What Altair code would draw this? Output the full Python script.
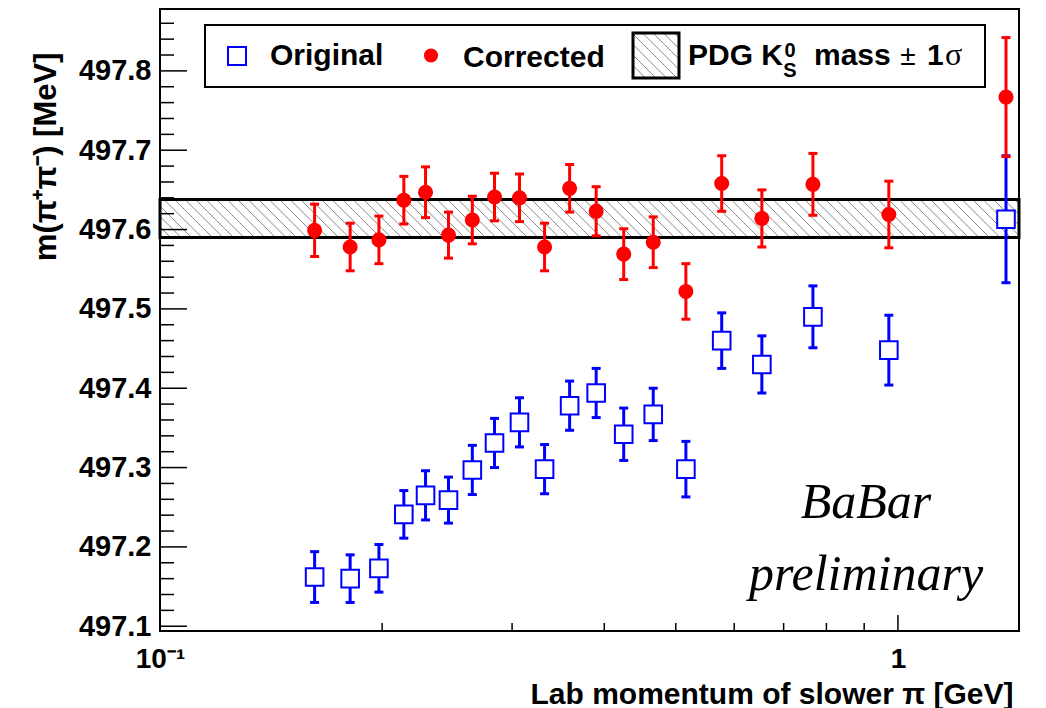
import altair as alt
import numpy as np
import pandas as pd

# ---- data ----
p_lab = [0.162, 0.181, 0.198, 0.214, 0.229, 0.246, 0.265, 0.284, 0.307, 0.332,
         0.359, 0.390, 0.425, 0.466, 0.516, 0.577, 0.654, 0.767, 0.972, 1.401]
orig_mass = [497.162, 497.160, 497.173, 497.241, 497.265, 497.259, 497.297, 497.331, 497.357, 497.298,
             497.378, 497.394, 497.342, 497.367, 497.298, 497.460, 497.430, 497.490, 497.448, 497.613]
orig_err = [0.032, 0.030, 0.030, 0.030, 0.031, 0.029, 0.031, 0.031, 0.031, 0.031,
            0.031, 0.031, 0.033, 0.033, 0.035, 0.035, 0.036, 0.039, 0.044, 0.080]
corr_mass = [497.599, 497.578, 497.587, 497.637, 497.647, 497.593, 497.612, 497.641, 497.640, 497.578,
             497.652, 497.623, 497.569, 497.584, 497.522, 497.658, 497.614, 497.657, 497.619, 497.767]
corr_err = [0.033, 0.030, 0.030, 0.030, 0.032, 0.029, 0.030, 0.030, 0.030, 0.030,
            0.030, 0.031, 0.032, 0.032, 0.035, 0.035, 0.036, 0.039, 0.042, 0.075]
pdg_mass = 497.614
pdg_sigma = 0.024

y_major = [497.1, 497.2, 497.3, 497.4, 497.5, 497.6, 497.7, 497.8]
y_minor = [v for v in np.round(np.arange(497.10, 497.861, 0.02), 2).tolist()
           if round(v * 10) / 10 != v]
x_major = [0.1, 1.0]
x_minor = [0.2, 0.3, 0.4, 0.5, 0.6, 0.7, 0.8, 0.9]

# ---- layout ----
W, H = 859, 622
XMIN, XMAX = 0.1, 1.459
YMIN, YMAX = 497.094, 497.878
RED = "#ff0000"
BLUE = "#0000ff"
SANS = "Liberation Sans"
SERIF = "Liberation Serif"

xs = alt.Scale(type="log", domain=[XMIN, XMAX], nice=False)
ys = alt.Scale(domain=[YMIN, YMAX], nice=False, zero=False)

AX = alt.Axis(values=x_major, labelExpr="datum.value < 0.5 ? '10⁻¹' : '1'",
              ticks=False, domain=False, grid=False, labelFlush=False,
              labelFont=SANS, labelFontWeight="bold", labelFontSize=28,
              labelColor="black", labelPadding=14,
              title="Lab momentum of slower π [GeV]", titleFont=SANS,
              titleFontWeight="bold", titleFontSize=30, titleColor="black",
              titleX=853, titleY=72, titleAlign="right", titleBaseline="alphabetic")
AY = alt.Axis(values=y_major, format=".1f", ticks=False, domain=False, grid=False,
              labelFont=SANS, labelFontWeight="bold", labelFontSize=29,
              labelColor="black", labelPadding=9,
              title="m(π⁺π⁻) [MeV]", titleFont=SANS, titleFontWeight="bold",
              titleFontSize=31, titleColor="black", titleAngle=270,
              titleX=-114, titleY=43, titleAlign="right", titleBaseline="middle")

df = pd.DataFrame({"p": p_lab, "orig": orig_mass, "oerr": orig_err,
                   "corr": corr_mass, "cerr": corr_err})
df["olo"] = df["orig"] - df["oerr"]
df["ohi"] = df["orig"] + df["oerr"]
df["clo"] = df["corr"] - df["cerr"]
df["chi"] = df["corr"] + df["cerr"]

band = pd.DataFrame({"lo": [pdg_mass - pdg_sigma], "hi": [pdg_mass + pdg_sigma]})

# hatch lines for the band (decorative), uniform in pixel space on the log axis
dec_per_px = np.log10(XMAX / XMIN) / W
band_px = (2 * pdg_sigma) / (YMAX - YMIN) * H
spacing = 10.5 * dec_per_px
slant = band_px * dec_per_px
starts = np.arange(np.log10(XMIN) - slant, np.log10(XMAX), spacing)
hatch = pd.DataFrame({"xa": 10 ** starts, "xb": 10 ** (starts + slant),
                      "hi": pdg_mass + pdg_sigma, "lo": pdg_mass - pdg_sigma})

def X(f):
    return alt.X(f, type="quantitative", scale=xs, axis=AX)

def Y(f):
    return alt.Y(f, type="quantitative", scale=ys, axis=AY)

layers = []

# band
layers.append(alt.Chart(hatch).mark_rule(color="#8a8a8a", strokeWidth=1, clip=True).encode(
    x=X("xa"), x2="xb", y=Y("hi"), y2="lo"))
layers.append(alt.Chart(band).mark_rect(fillOpacity=0, stroke="black", strokeWidth=3).encode(
    x=alt.value(0), x2=alt.value(W), y=Y("hi"), y2="lo"))

# inside ticks
layers.append(alt.Chart(pd.DataFrame({"v": y_major})).mark_rule(color="black", strokeWidth=1.5).encode(
    y=Y("v"), x=alt.value(0), x2=alt.value(27)))
layers.append(alt.Chart(pd.DataFrame({"v": y_minor})).mark_rule(color="black", strokeWidth=1.5).encode(
    y=Y("v"), x=alt.value(0), x2=alt.value(14)))
layers.append(alt.Chart(pd.DataFrame({"v": x_major})).mark_rule(color="black", strokeWidth=1.5).encode(
    x=X("v"), y=alt.value(H), y2=alt.value(H - 16)))
layers.append(alt.Chart(pd.DataFrame({"v": x_minor})).mark_rule(color="black", strokeWidth=1.5).encode(
    x=X("v"), y=alt.value(H), y2=alt.value(H - 8)))

base = alt.Chart(df)
# original (blue open squares)
layers.append(base.mark_rule(color=BLUE, strokeWidth=3).encode(x=X("p"), y=Y("olo"), y2="ohi"))
layers.append(base.mark_tick(orient="horizontal", size=9, thickness=3, color=BLUE, opacity=1).encode(x=X("p"), y=Y("olo")))
layers.append(base.mark_tick(orient="horizontal", size=9, thickness=3, color=BLUE, opacity=1).encode(x=X("p"), y=Y("ohi")))
layers.append(base.mark_point(shape="square", size=310, filled=True, fill="white", stroke=BLUE,
                              strokeWidth=2, opacity=1).encode(x=X("p"), y=Y("orig")))
# corrected (red dots)
layers.append(base.mark_rule(color=RED, strokeWidth=3).encode(x=X("p"), y=Y("clo"), y2="chi"))
layers.append(base.mark_tick(orient="horizontal", size=9, thickness=3, color=RED, opacity=1).encode(x=X("p"), y=Y("clo")))
layers.append(base.mark_tick(orient="horizontal", size=9, thickness=3, color=RED, opacity=1).encode(x=X("p"), y=Y("chi")))
layers.append(base.mark_circle(size=227, color=RED, opacity=1).encode(x=X("p"), y=Y("corr")))

dummy = pd.DataFrame({"d": [0]})

def txt(s, x, y, size, weight="bold", font=SANS, align="left", italic=False):
    kw = dict(text=s, align=align, baseline="alphabetic", font=font, fontSize=size,
              fontWeight=weight, color="black")
    if italic:
        kw["fontStyle"] = "italic"
    return alt.Chart(dummy).mark_text(**kw).encode(x=alt.value(x), y=alt.value(y))

# legend
layers.append(alt.Chart(dummy).mark_rect(fill="white", stroke="black", strokeWidth=2).encode(
    x=alt.value(45), x2=alt.value(825), y=alt.value(16), y2=alt.value(78)))
layers.append(alt.Chart(dummy).mark_point(shape="square", size=324, filled=True, fill="white",
                                          stroke=BLUE, strokeWidth=2, opacity=1).encode(
    x=alt.value(77), y=alt.value(47)))
layers.append(txt("Original", 110, 56, 30))
layers.append(alt.Chart(dummy).mark_circle(size=200, color=RED, opacity=1).encode(
    x=alt.value(271), y=alt.value(46.5)))
layers.append(txt("Corrected", 303, 58, 30))
# legend hatch box
bx0, bx1, by0, by1 = 473, 519, 24, 69
for c in np.arange(by0 - bx1 + 5, by1 - bx0, 10.5):
    xl = max(bx0, by0 - c)
    xh = min(bx1, by1 - c)
    if xh - xl > 0.5:
        layers.append(alt.Chart(dummy).mark_rule(color="#8a8a8a", strokeWidth=1).encode(
            x=alt.value(float(xl)), x2=alt.value(float(xh)),
            y=alt.value(float(xl + c)), y2=alt.value(float(xh + c))))
layers.append(alt.Chart(dummy).mark_rect(fillOpacity=0, stroke="black", strokeWidth=3).encode(
    x=alt.value(bx0), x2=alt.value(bx1), y=alt.value(by0), y2=alt.value(by1)))
layers.append(txt("PDG K", 528, 56, 30))
layers.append(txt("0", 630, 48, 20, align="center"))
layers.append(txt("S", 630, 68, 20, align="center"))
layers.append(txt("mass", 654, 56, 30))
layers.append(txt("±", 748, 56, 28, weight="normal", align="center"))
layers.append(txt("1", 767, 56, 30))
layers.append(txt("σ", 785, 56, 32, weight="normal", font=SERIF))

# watermark
layers.append(txt("BaBar", 706, 509, 50, weight="normal", font=SERIF, align="center", italic=True))
layers.append(txt("preliminary", 706, 581, 50, weight="normal", font=SERIF, align="center", italic=True))

chart = alt.layer(*layers).properties(
    width=W, height=H,
    autosize=alt.AutoSizeParams(type="none"),
    padding={"left": 160, "top": 9, "right": 27, "bottom": 77},
).configure_view(stroke="black", strokeWidth=2)

chart.save("out.html", embed_options={"renderer": "svg", "actions": False})
